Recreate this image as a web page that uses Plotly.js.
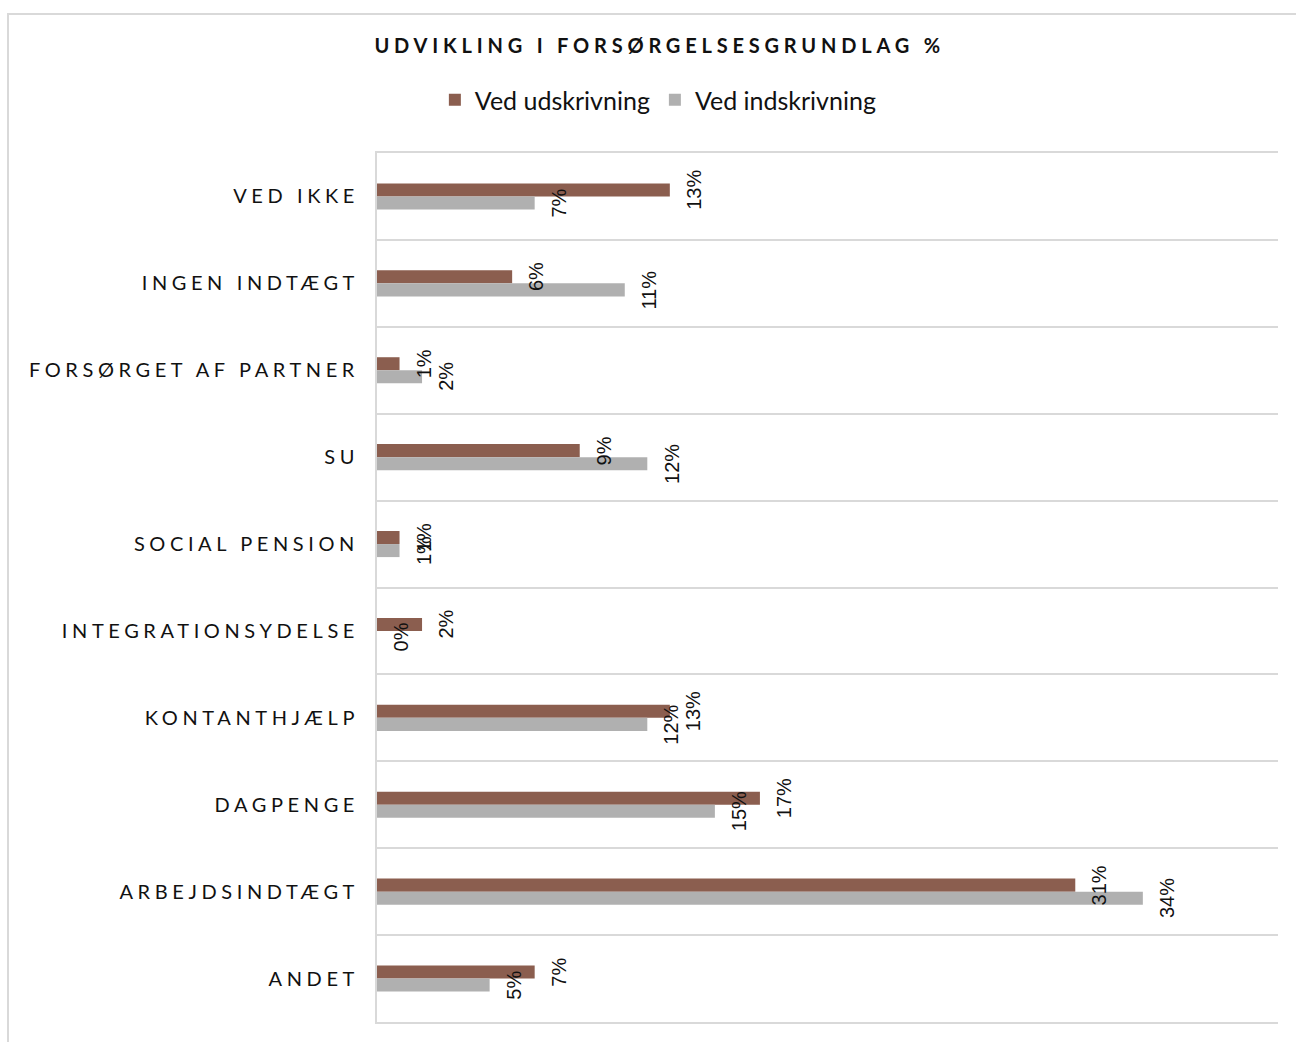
<!DOCTYPE html>
<html>
<head>
<meta charset="utf-8">
<script src="https://cdn.plot.ly/plotly-3.0.1.min.js"></script>
<style>
  body { margin: 0; background: #fff; overflow: hidden; }
  #frame { position: absolute; left: 7px; top: 13px; width: 1400px; height: 1200px;
           border: 2px solid #d9d9d9; box-sizing: border-box; }
  #myPlot { position: absolute; left: 0; top: 0; width: 1296px; height: 1042px; }
  .ytick text { letter-spacing: 4.6px; }
  .gtitle { letter-spacing: 4.8px; font-weight: 900 !important; }
</style>
</head>
<body>
<div id="frame"></div>
<div id="myPlot"></div>
<script>
// categories top to bottom
var categories = ['VED IKKE', 'INGEN INDTÆGT', 'FORSØRGET AF PARTNER', 'SU', 'SOCIAL PENSION',
	'INTEGRATIONSYDELSE', 'KONTANTHJÆLP', 'DAGPENGE', 'ARBEJDSINDTÆGT', 'ANDET'];
var udskrivning = [13, 6, 1, 9, 1, 2, 13, 17, 31, 7];
var indskrivning = [7, 11, 2, 12, 1, 0, 12, 15, 34, 5];
var seriesNames = ['Ved udskrivning', 'Ved indskrivning'];
var seriesColors = ['#8b5e4f', '#b0b0b0'];

var traceUd = {
	type: 'bar', orientation: 'h', name: seriesNames[0],
	x: udskrivning, y: categories,
	marker: {color: seriesColors[0]}, hoverinfo: 'skip'
};
var traceInd = {
	type: 'bar', orientation: 'h', name: seriesNames[1],
	x: indskrivning, y: categories,
	marker: {color: seriesColors[1]}, hoverinfo: 'skip'
};

// rotated value labels, one per bar
var labelFont = {family: 'Liberation Sans, Arial, sans-serif', size: 20, color: '#111'};
var annotations = [];
categories.forEach((cat, i) => {
	annotations.push({x: udskrivning[i], y: cat, text: udskrivning[i] + '%', textangle: -90,
		xanchor: 'left', yanchor: 'middle', xshift: 11, yshift: 6.5, showarrow: false, font: labelFont});
	annotations.push({x: indskrivning[i], y: cat, text: indskrivning[i] + '%', textangle: -90,
		xanchor: 'left', yanchor: 'middle', xshift: 11, yshift: -6.5, showarrow: false, font: labelFont});
});

var layout = {
	width: 1296, height: 1042, autosize: false,
	margin: {l: 377, r: 18, t: 153, b: 20},
	paper_bgcolor: 'rgba(0,0,0,0)', plot_bgcolor: 'rgba(0,0,0,0)',
	title: {
		text: '<b>UDVIKLING I FORSØRGELSESGRUNDLAG %</b>',
		font: {family: 'Lato, sans-serif', size: 20, color: '#111'},
		xref: 'container', x: 0.509, xanchor: 'center',
		yref: 'container', y: 0.956, yanchor: 'middle'
	},
	showlegend: true,
	legend: {
		orientation: 'h', xref: 'container', x: 0.508, xanchor: 'center',
		yref: 'container', y: 0.904, yanchor: 'middle',
		font: {family: 'Lato, sans-serif', size: 25, color: '#111'},
		itemclick: false
	},
	barmode: 'group', bargap: 0.7, bargroupgap: 0,
	xaxis: {
		range: [0, 40], showgrid: false, zeroline: false, showticklabels: false, ticks: '',
		showline: true, mirror: true, linecolor: '#d9d9d9', linewidth: 2
	},
	yaxis: {
		type: 'category', autorange: 'reversed', tickson: 'boundaries', ticks: '',
		showgrid: true, gridcolor: '#d9d9d9', gridwidth: 2,
		showline: true, linecolor: '#d9d9d9', linewidth: 2,
		ticklabelstandoff: 12,
		tickfont: {family: 'Lato, sans-serif', size: 20, color: '#111'}
	},
	annotations: annotations
};

Plotly.newPlot('myPlot', [traceUd, traceInd], layout, {displayModeBar: false, staticPlot: true});
</script>
</body>
</html>
